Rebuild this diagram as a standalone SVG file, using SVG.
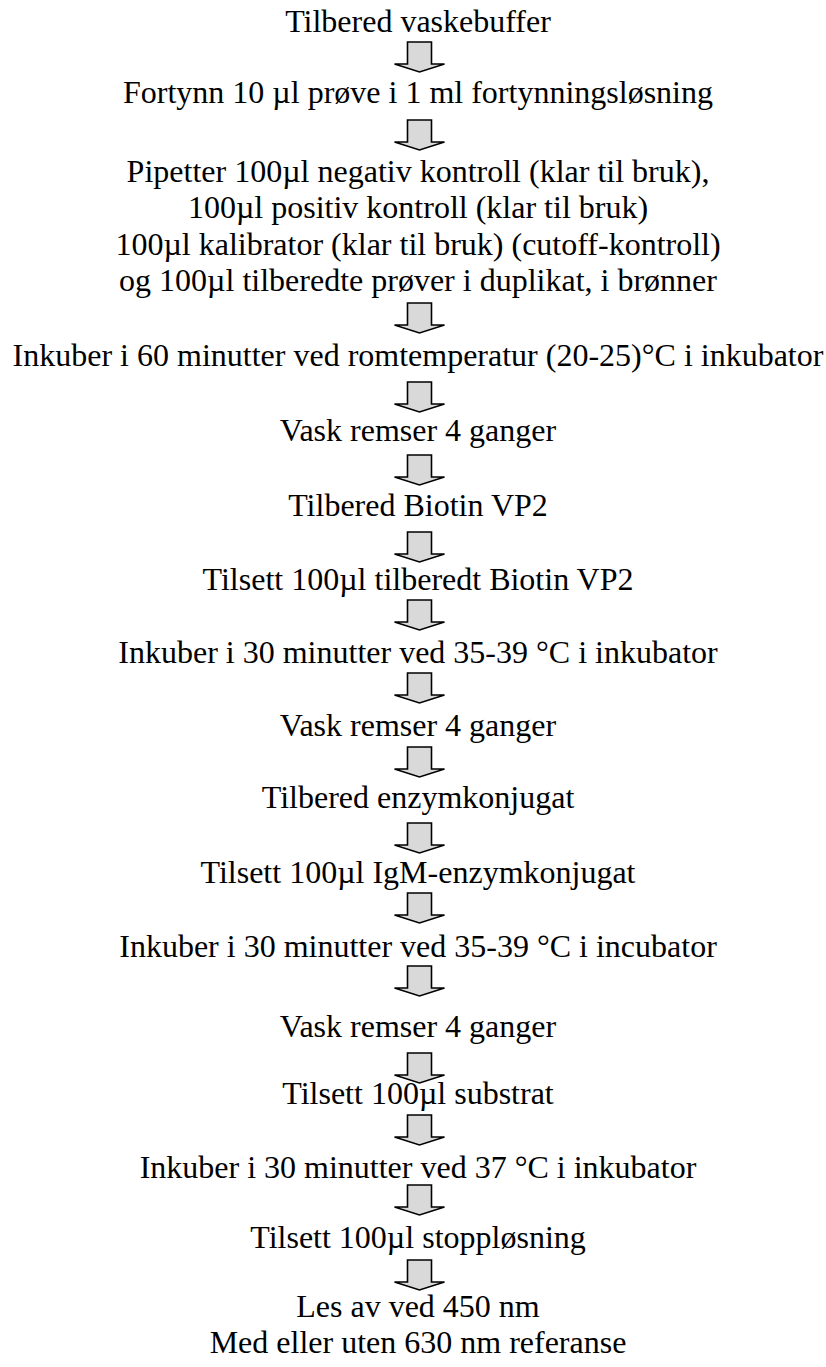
<svg xmlns="http://www.w3.org/2000/svg" width="826" height="1367" viewBox="0 0 826 1367">
<defs>
<style>
text{font-family:"Liberation Serif","Times New Roman",serif;font-size:32px;fill:#000;text-anchor:middle}
.arr{fill:#d9d9d9;stroke:#000;stroke-width:1.6;stroke-linejoin:miter}
</style>
<polygon id="ar" class="arr" points="-12,0 12,0 12,22 25,22 0,30 -25,22 -12,22"/>
</defs>
<rect width="826" height="1367" fill="#fff"/>
<g id="connectors">
<use href="#ar" x="419.5" y="42"/>
<use href="#ar" x="419.5" y="120"/>
<use href="#ar" x="419.5" y="303"/>
<use href="#ar" x="419.5" y="382"/>
<use href="#ar" x="419.5" y="455"/>
<use href="#ar" x="419.5" y="532"/>
<use href="#ar" x="419.5" y="600"/>
<use href="#ar" x="419.5" y="673"/>
<use href="#ar" x="419.5" y="747"/>
<use href="#ar" x="419.5" y="823"/>
<use href="#ar" x="419.5" y="893"/>
<use href="#ar" x="419.5" y="966"/>
<use href="#ar" x="419.5" y="1053"/>
<use href="#ar" x="419.5" y="1115"/>
<use href="#ar" x="419.5" y="1185"/>
<use href="#ar" x="419.5" y="1260"/>
</g>
<g id="n1"><text x="418" y="32">Tilbered vaskebuffer</text></g>
<g id="n2"><text x="418" y="103">Fortynn 10 µl prøve i 1 ml fortynningsløsning</text></g>
<g id="n3">
<text x="418" y="182">Pipetter 100µl negativ kontroll (klar til bruk),</text>
<text x="418" y="218">100µl positiv kontroll (klar til bruk)</text>
<text x="418" y="255">100µl kalibrator (klar til bruk) (cutoff-kontroll)</text>
<text x="418" y="291">og 100µl tilberedte prøver i duplikat, i brønner</text>
</g>
<g id="n4"><text x="418" y="366">Inkuber i 60 minutter ved romtemperatur (20-25)°C i inkubator</text></g>
<g id="n5"><text x="418" y="441">Vask remser 4 ganger</text></g>
<g id="n6"><text x="418" y="516">Tilbered Biotin VP2</text></g>
<g id="n7"><text x="418" y="590">Tilsett 100µl tilberedt Biotin VP2</text></g>
<g id="n8"><text x="418" y="663">Inkuber i 30 minutter ved 35-39 °C i inkubator</text></g>
<g id="n9"><text x="418" y="736">Vask remser 4 ganger</text></g>
<g id="n10"><text x="418" y="808">Tilbered enzymkonjugat</text></g>
<g id="n11"><text x="418" y="883">Tilsett 100µl IgM-enzymkonjugat</text></g>
<g id="n12"><text x="418" y="957">Inkuber i 30 minutter ved 35-39 °C i incubator</text></g>
<g id="n13"><text x="418" y="1037">Vask remser 4 ganger</text></g>
<g id="n14"><text x="418" y="1104">Tilsett 100µl substrat</text></g>
<g id="n15"><text x="418" y="1178">Inkuber i 30 minutter ved 37 °C i inkubator</text></g>
<g id="n16"><text x="418" y="1248">Tilsett 100µl stoppløsning</text></g>
<g id="n17">
<text x="418" y="1317">Les av ved 450 nm</text>
<text x="418" y="1353">Med eller uten 630 nm referanse</text>
</g>
</svg>
